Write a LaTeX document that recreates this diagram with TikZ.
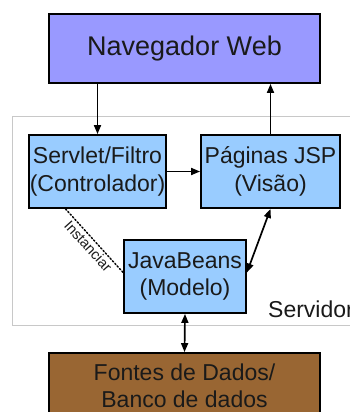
\documentclass[tikz,border=0pt]{standalone}
\usepackage{fontspec}
\setmainfont{Liberation Sans}
\usetikzlibrary{arrows.meta}
\definecolor{navfill}{HTML}{9999FF}
\definecolor{boxfill}{HTML}{99CCFF}
\definecolor{dbfill}{HTML}{996633}
\definecolor{srvline}{HTML}{C8C8C8}
\definecolor{txt}{HTML}{1A1A1A}
\begin{document}
\begin{tikzpicture}[x=1pt,y=1pt,
  box/.style={draw=black, line width=1.8pt, text=txt, align=center, inner sep=0pt,
    font=\fontsize{23}{27.5}\selectfont},
  arr/.style={line width=1.7pt, -{Triangle[length=9pt,width=7pt]}},
  darr/.style={line width=1.7pt, {Triangle[length=9pt,width=7pt]}-{Triangle[length=9pt,width=7pt]}}]
\useasboundingbox (0,0) rectangle (350,-412);
\clip (0,0) rectangle (350,-412);
\fill[white] (0,0) rectangle (350,-412);
% server area
\draw[srvline, line width=0.8pt] (12,-116) rectangle (360,-325);
\node[anchor=base west, text=txt, font=\fontsize{23}{27}\selectfont, inner sep=0pt] (srv) at (268,-317) {Servidor};
% nodes
\node[box, fill=navfill, minimum width=271pt, minimum height=69pt,
  font=\fontsize{27}{32}\selectfont] (nav) at (184.5,-48.5) {Navegador Web};
\node[box, fill=boxfill, minimum width=137pt, minimum height=73pt] (servlet) at (97.5,-171.5) {Servlet/Filtro\\(Controlador)};
\node[box, fill=boxfill, minimum width=139pt, minimum height=73pt] (pag) at (270.5,-171.5) {Páginas JSP\\(Visão)};
\node[box, fill=boxfill, minimum width=122pt, minimum height=73pt] (jb) at (185,-276.5) {JavaBeans\\(Modelo)};
\node[box, fill=dbfill, minimum width=271pt, minimum height=66pt] (db) at (184.5,-386) {Fontes de Dados/\\Banco de dados};
% connectors
\draw[arr] (nav.south -| servlet.north) -- (servlet.north);
\draw[arr] (pag.north) -- (pag.north |- nav.south);
\draw[arr] (servlet.east) -- (pag.west);
\draw[darr] (pag.south) -- ([yshift=4pt]jb.east);
\draw[darr] (jb.south) -- (db.north);
\draw[line width=1.5pt, dotted, line cap=round] ([xshift=-32pt]servlet.south) -- node[sloped, below, text=txt, inner sep=2pt,
  font=\fontsize{14.5}{16}\selectfont] (inst) {Instanciar} ([yshift=4pt]jb.west);
\end{tikzpicture}
\end{document}
